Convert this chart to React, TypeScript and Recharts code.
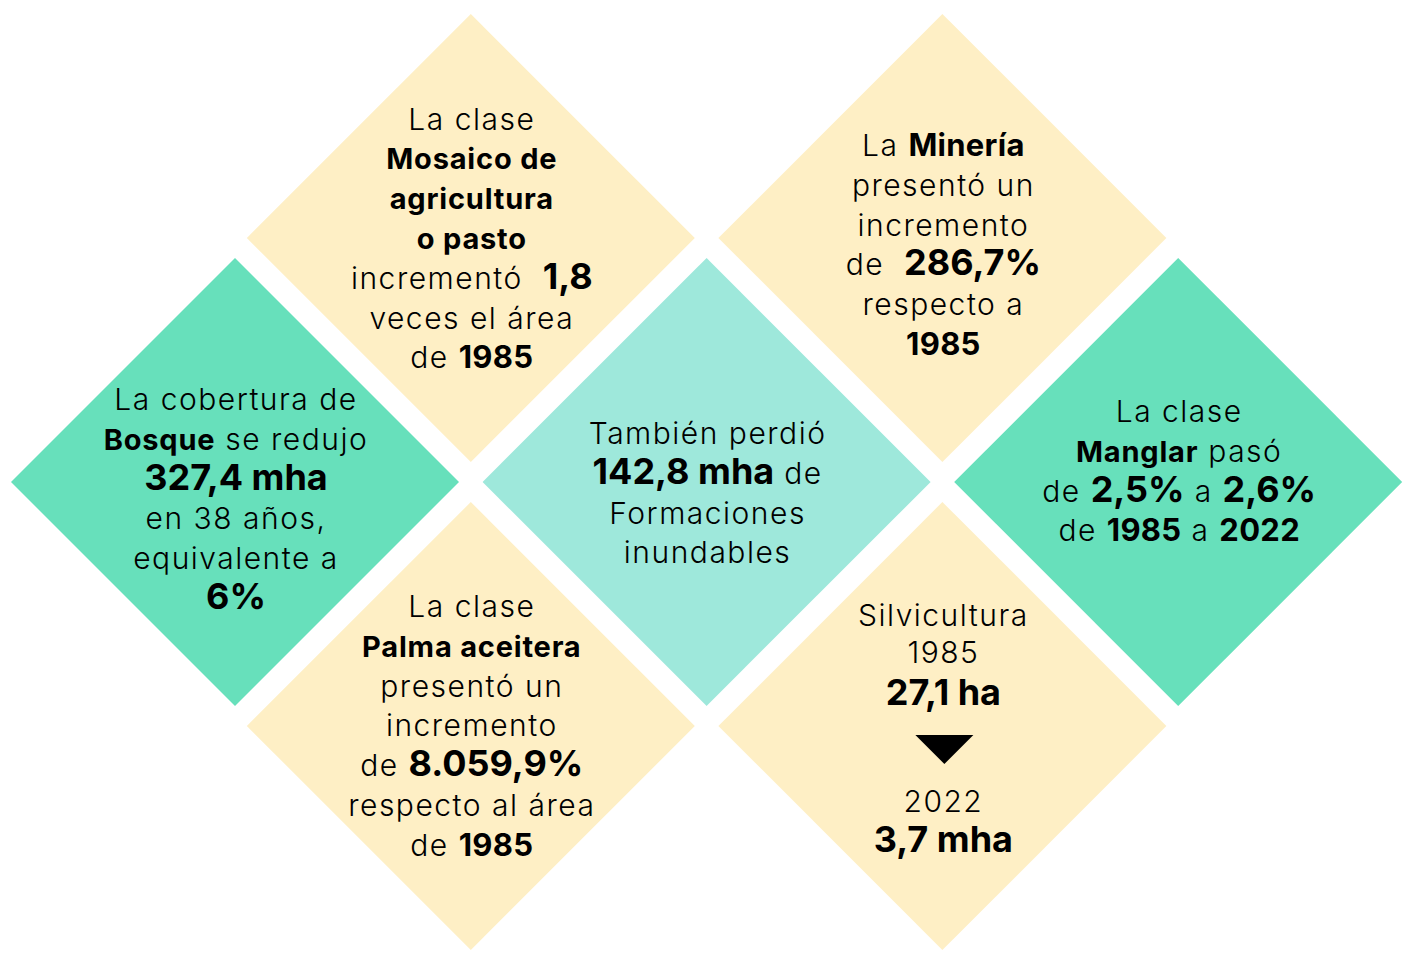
import React from 'react';
import { ScatterChart, Scatter, XAxis, YAxis } from 'recharts';

const WIDTH = 1405;
const HEIGHT = 954;

// one diamond per land-cover class
const classNames = [
  'Mosaico de agricultura o pasto',
  'Bosque',
  'Formaciones inundables',
  'Minería',
  'Manglar',
  'Palma aceitera',
  'Silvicultura',
];
// place of each diamond in the grid
const gridCols = [1, 0, 2, 3, 4, 1, 3];
const gridRows = [0, 1, 1, 0, 1, 2, 2];
const classGroups = ['antropico', 'natural', 'humedal', 'antropico', 'natural', 'antropico', 'antropico'];

// text of each diamond: {b|..} bold class, {n|..} figure, {y|..} year
const mosaicoLines = ['La clase', '{b|Mosaico de}', '{b|agricultura}', '{b|o pasto}', 'incrementó  {n|1,8}', 'veces el área', 'de {y|1985}'];
const bosqueLines = ['La cobertura de', '{b|Bosque} se redujo', '{n|327,4 mha}', 'en 38 años,', 'equivalente a', '{n|6%}'];
const inundablesLines = ['También perdió', '{n|142,8 mha} de', 'Formaciones', 'inundables'];
const mineriaLines = ['La {y|Minería}', 'presentó un', 'incremento', 'de  {n|286,7%}', 'respecto a', '{y|1985}'];
const manglarLines = ['La clase', '{b|Manglar} pasó', 'de {n|2,5%} a {n|2,6%}', 'de {y|1985} a {y|2022}'];
const palmaLines = ['La clase', '{b|Palma aceitera}', 'presentó un', 'incremento', 'de {n|8.059,9%}', 'respecto al área', 'de {y|1985}'];
const silviculturaLines = ['Silvicultura', '1985', '{n|27,1 ha}', '2022', '{n|3,7 mha}'];

const classLines = [mosaicoLines, bosqueLines, inundablesLines, mineriaLines, manglarLines, palmaLines, silviculturaLines];

const data = classNames.map((name, i) => ({
  name,
  col: gridCols[i],
  row: gridRows[i],
  group: classGroups[i],
  lines: classLines[i],
  idx: i,
}));

// layout
const COL0 = 235;
const COL_STEP = 235.8;
const ROW0 = 238;
const ROW_STEP = 244;
const HALF = 224;
const LINE_H = 39.8;

const groupFill: Record<string, string> = {
  antropico: '#FEEFC5',
  natural: '#67E0BB',
  humedal: '#9EE8DB',
};

// baseline of the first line relative to the diamond centre
const firstBaseline = [-108.5, -72, -38, -82, -60, -109, 0];
const silviBaselines = [-100, -63, -21, 86, 126];

const FONT = 'Inter, "Open Sans", sans-serif';
const segStyle: Record<string, React.CSSProperties> = {
  r: { fontWeight: 300, fontSize: 30, letterSpacing: 1.5 },
  b: { fontWeight: 700, fontSize: 29, letterSpacing: 0.8 },
  y: { fontWeight: 700, fontSize: 31, letterSpacing: 0.3 },
  n: { fontWeight: 700, fontSize: 36, letterSpacing: 0 },
};

function parseLine(line: string) {
  const parts: { t: string; s: string }[] = [];
  const re = /\{(\w)\|([^}]*)\}/g;
  let last = 0;
  let m: RegExpExecArray | null;
  while ((m = re.exec(line))) {
    if (m.index > last) parts.push({ t: line.slice(last, m.index), s: 'r' });
    parts.push({ t: m[2], s: m[1] });
    last = re.lastIndex;
  }
  if (last < line.length) parts.push({ t: line.slice(last), s: 'r' });
  return parts;
}

function Diamond(props: any) {
  const { cx, cy, payload } = props;
  if (cx == null || cy == null) return null;
  const pts = `${cx},${cy - HALF} ${cx + HALF},${cy} ${cx},${cy + HALF} ${cx - HALF},${cy}`;
  const isSilvi = payload.idx === 6;
  return (
    <g>
      <polygon points={pts} fill={groupFill[payload.group]} />
      {payload.lines.map((line: string, i: number) => {
        const y = isSilvi ? cy + silviBaselines[i] : cy + firstBaseline[payload.idx] + i * LINE_H;
        return (
          <text
            key={i}
            x={cx + 1}
            y={y}
            textAnchor="middle"
            fill="#000"
            style={{ fontFamily: FONT, whiteSpace: 'pre' }}
          >
            {parseLine(line).map((p, j) => (
              <tspan key={j} style={segStyle[p.s]}>
                {p.t}
              </tspan>
            ))}
          </text>
        );
      })}
      {isSilvi && (
        <polygon
          points={`${cx - 27},${cy + 9} ${cx + 31},${cy + 9} ${cx + 2},${cy + 38}`}
          fill="#000"
        />
      )}
    </g>
  );
}

export default function App() {
  return (
    <div style={{ position: 'absolute', left: 0, top: 0, background: '#fff' }}>
      <ScatterChart width={WIDTH} height={HEIGHT} margin={{ top: 0, right: 0, bottom: 0, left: 0 }}>
        <XAxis
          type="number"
          dataKey="col"
          hide
          domain={[-COL0 / COL_STEP, (WIDTH - COL0) / COL_STEP]}
        />
        <YAxis
          type="number"
          dataKey="row"
          hide
          reversed
          domain={[-ROW0 / ROW_STEP, (HEIGHT - ROW0) / ROW_STEP]}
        />
        <Scatter data={data} shape={Diamond} isAnimationActive={false} />
      </ScatterChart>
    </div>
  );
}
